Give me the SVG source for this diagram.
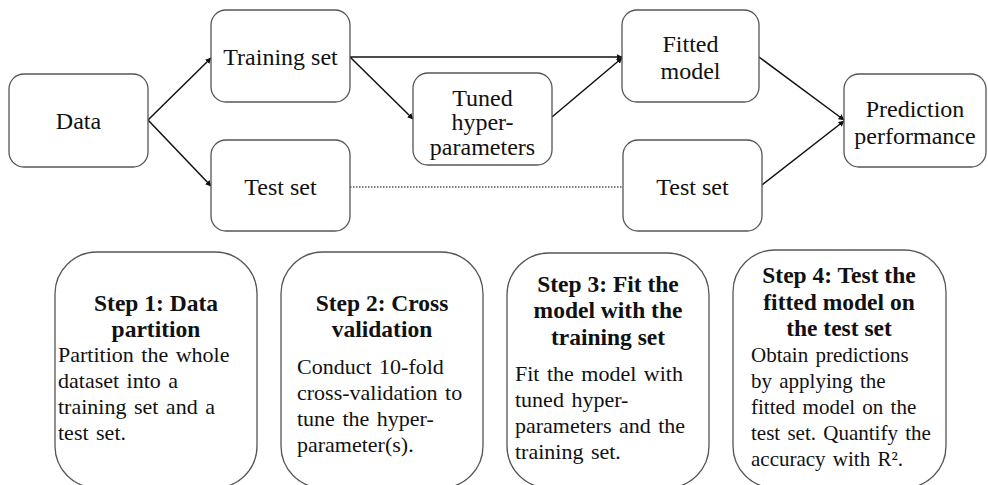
<svg xmlns="http://www.w3.org/2000/svg" width="988" height="485" viewBox="0 0 988 485">
<defs>
<style>
.box{fill:#fff;stroke:#555;stroke-width:1.3}
.t{font-family:"Liberation Serif","Times New Roman",serif;font-size:24px;fill:#111;text-anchor:middle}
.h{font-family:"Liberation Serif","Times New Roman",serif;font-size:23.5px;font-weight:bold;fill:#111;text-anchor:middle}
.b{font-family:"Liberation Serif","Times New Roman",serif;font-size:22px;fill:#111;word-spacing:2px}
.b4{font-size:21px}
.c{stroke:#111;stroke-width:1.5;fill:none;marker-end:url(#ah)}
.d{stroke:#555;stroke-width:1.3;fill:none;stroke-dasharray:1.5 1.5}
</style>
<marker id="ah" viewBox="0 0 10 10" refX="9" refY="5" markerWidth="6" markerHeight="6" orient="auto" markerUnits="userSpaceOnUse">
<path d="M0,0 L10,5 L0,10 z" fill="#111"/>
</marker>
</defs>
<rect width="988" height="485" fill="#fff"/>
<g id="connectors">
<line class="c" x1="148" y1="120" x2="211" y2="58"/>
<line class="c" x1="148" y1="120" x2="211" y2="186"/>
<line class="c" x1="350" y1="57" x2="622" y2="57"/>
<line class="c" x1="350" y1="57" x2="413" y2="119"/>
<line class="c" x1="552" y1="117" x2="622" y2="58"/>
<line class="d" x1="350" y1="187" x2="623" y2="187"/>
<line class="c" x1="759" y1="57" x2="844" y2="120"/>
<line class="c" x1="762" y1="185" x2="844" y2="121"/>
</g>
<g id="data">
<rect class="box" x="9" y="74" width="139" height="93" rx="15"/>
<text class="t" x="78.5" y="129">Data</text>
</g>
<g id="training">
<rect class="box" x="211" y="10" width="139" height="92" rx="15"/>
<text class="t" x="280.5" y="65">Training set</text>
</g>
<g id="test1">
<rect class="box" x="211" y="140" width="139" height="91" rx="15"/>
<text class="t" x="280.5" y="195">Test set</text>
</g>
<g id="tuned">
<rect class="box" x="413" y="73" width="139" height="92" rx="15"/>
<text class="t" x="482.5" y="106">Tuned</text>
<text class="t" x="482.5" y="130">hyper-</text>
<text class="t" x="482.5" y="155">parameters</text>
</g>
<g id="fitted">
<rect class="box" x="622" y="10" width="137" height="92" rx="15"/>
<text class="t" x="690.5" y="52">Fitted</text>
<text class="t" x="690.5" y="79">model</text>
</g>
<g id="test2">
<rect class="box" x="623" y="140" width="139" height="91" rx="15"/>
<text class="t" x="692.5" y="195">Test set</text>
</g>
<g id="prediction">
<rect class="box" x="844" y="74" width="142" height="93" rx="15"/>
<text class="t" x="915" y="117">Prediction</text>
<text class="t" x="915" y="144">performance</text>
</g>
<g id="step1">
<rect class="box" x="55" y="252" width="202" height="236" rx="42"/>
<text class="h" x="156" y="311">Step 1: Data</text>
<text class="h" x="156" y="337">partition</text>
<text class="b" x="58" y="362">Partition the whole</text>
<text class="b" x="58" y="388">dataset into a</text>
<text class="b" x="58" y="414">training set and a</text>
<text class="b" x="58" y="440">test set.</text>
</g>
<g id="step2">
<rect class="box" x="281" y="252" width="202" height="236" rx="42"/>
<text class="h" x="382" y="311">Step 2: Cross</text>
<text class="h" x="382" y="337">validation</text>
<text class="b" x="297" y="374">Conduct 10-fold</text>
<text class="b" x="297" y="400">cross-validation to</text>
<text class="b" x="297" y="426">tune the hyper-</text>
<text class="b" x="297" y="452">parameter(s).</text>
</g>
<g id="step3">
<rect class="box" x="507" y="253" width="202" height="235" rx="42"/>
<text class="h" x="608" y="292">Step 3: Fit the</text>
<text class="h" x="608" y="318">model with the</text>
<text class="h" x="608" y="345">training set</text>
<text class="b" x="515" y="381">Fit the model with</text>
<text class="b" x="515" y="407">tuned hyper-</text>
<text class="b" x="515" y="433">parameters and the</text>
<text class="b" x="515" y="459">training set.</text>
</g>
<g id="step4">
<rect class="box" x="733" y="250" width="213" height="238" rx="42"/>
<text class="h" x="839" y="283">Step 4: Test the</text>
<text class="h" x="839" y="310">fitted model on</text>
<text class="h" x="839" y="336">the test set</text>
<text class="b b4" x="751" y="362">Obtain predictions</text>
<text class="b b4" x="751" y="388">by applying the</text>
<text class="b b4" x="751" y="414">fitted model on the</text>
<text class="b b4" x="751" y="440">test set. Quantify the</text>
<text class="b b4" x="751" y="466">accuracy with R².</text>
</g>
</svg>
